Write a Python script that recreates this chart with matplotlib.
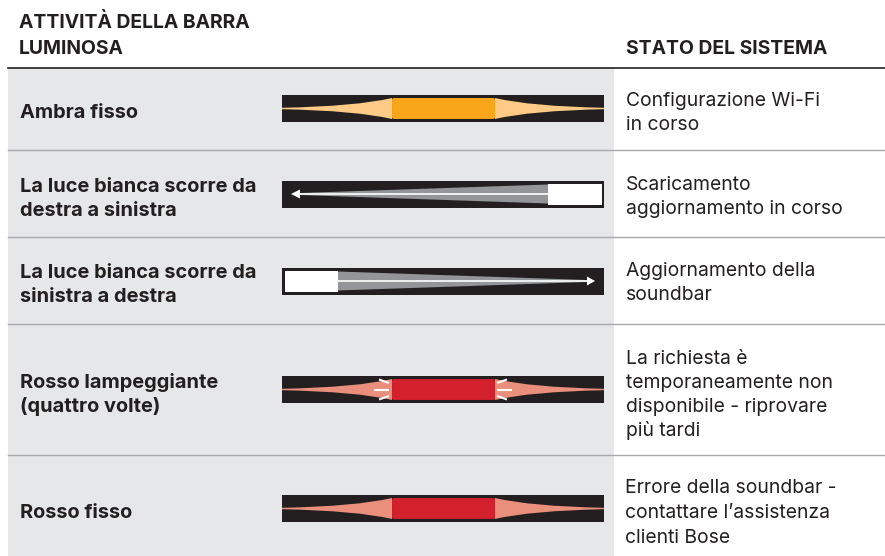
"""Bose soundbar light bar status table (Italian)."""
import matplotlib
matplotlib.use("Agg")
import matplotlib.pyplot as plt
from matplotlib.patches import FancyBboxPatch, PathPatch, Polygon, Rectangle
from matplotlib.path import Path

plt.rcParams["font.family"] = ["Inter", "DejaVu Sans"]

W, H = 885, 556
INK = "#231f20"
PANEL = "#e6e7e9"
RULE = "#a7a9ac"

header_left = ["ATTIVITÀ DELLA BARRA", "LUMINOSA"]
header_right = "STATO DEL SISTEMA"

activity_labels = [
    ["Ambra fisso"],
    ["La luce bianca scorre da", "destra a sinistra"],
    ["La luce bianca scorre da", "sinistra a destra"],
    ["Rosso lampeggiante", "(quattro volte)"],
    ["Rosso fisso"],
]
status_labels = [
    ["Configurazione Wi-Fi", "in corso"],
    ["Scaricamento", "aggiornamento in corso"],
    ["Aggiornamento della", "soundbar"],
    ["La richiesta è", "temporaneamente non", "disponibile - riprovare", "più tardi"],
    ["Errore della soundbar -", "contattare l’assistenza", "clienti Bose"],
]
status_x = [626, 626, 626, 626, 625]
label_y = [113.5, 198.5, 285.5, 395, 513.5]
status_y = [113, 196.5, 283.5, 395, 513]
status_step = [24, 24, 24, 24, 25]
divider_y = [150, 237, 324, 455]
bar_cy = [108.5, 194, 281, 389.5, 508.5]

BAR_L, BAR_R = 282, 604
BAR_H = 27


def text_block(ax, x, yc, lines, step, **kw):
    y0 = yc - step * (len(lines) - 1) / 2
    for i, line in enumerate(lines):
        ax.text(x, y0 + i * step, line, va="center", ha="left", **kw)


def taper(ax, x_end, x_block, cy, half, color, zorder=3):
    """Concave wedge from a thin end at x_end up to half height at x_block."""
    ctrl = x_block + (x_end - x_block) * 0.32
    verts = [(x_end, cy - 0.7), (ctrl, cy - 2.2), (x_block, cy - half),
             (x_block, cy + half), (ctrl, cy + 2.2), (x_end, cy + 0.7), (x_end, cy - 0.7)]
    codes = [Path.MOVETO, Path.CURVE3, Path.CURVE3, Path.LINETO,
             Path.CURVE3, Path.CURVE3, Path.CLOSEPOLY]
    ax.add_patch(PathPatch(Path(verts, codes), facecolor=color, lw=0, zorder=zorder))


def draw_bar(ax, cy):
    ax.add_patch(Rectangle((BAR_L, cy - BAR_H / 2), BAR_R - BAR_L, BAR_H, color=INK, lw=0, zorder=2))


def draw_glow(ax, cy, core, glow):
    """Centre block with a tapered glow running out to both bar ends."""
    taper(ax, BAR_L, 392, cy, 10.5, glow)
    taper(ax, BAR_R, 495, cy, 10.5, glow)
    ax.add_patch(FancyBboxPatch((393, cy - 9.5), 101, 19, boxstyle="round,pad=0,rounding_size=1",
                                facecolor=core, edgecolor=core, lw=1.4, zorder=4))


def draw_sweep(ax, cy, box_l, box_r, tip, neck):
    """White block with a grey tail and an arrow pointing along the bar."""
    edge = box_l if tip < box_l else box_r
    ax.add_patch(Polygon([(edge, cy - 9.5), (neck, cy - 1), (neck, cy + 1), (edge, cy + 9.5)],
                         color="#939598", lw=0, zorder=3))
    ax.add_patch(Rectangle((box_l, cy - 10.5), box_r - box_l, 21, color="white", lw=0, zorder=4))
    ax.plot([edge, neck], [cy, cy], color="white", lw=1.2, zorder=5, solid_capstyle="butt")
    ax.add_patch(Polygon([(tip, cy), (neck, cy - 4.5), (neck, cy + 4.5)], color="white", lw=0, zorder=5))


def draw_flash_ticks(ax, cy):
    for x0, x1 in [(374, 389), (497, 512)]:
        ax.plot([x0, x1], [cy, cy], color="white", lw=1.5, zorder=5, solid_capstyle="butt")
    for xa, xb in [(379, 389), (507, 497)]:
        for s in (-1, 1):
            ax.plot([xa, xb], [cy + s * 10, cy + s * 6.5], color="white", lw=1.5, zorder=5,
                    solid_capstyle="butt")


fig = plt.figure(figsize=(W / 100, H / 100), dpi=100)
ax = fig.add_axes([0, 0, 1, 1])
ax.set_xlim(0, W)
ax.set_ylim(H, 0)
ax.axis("off")

ax.add_patch(Rectangle((8, 68), 606, H - 68, color=PANEL, lw=0, zorder=0))
ax.plot([8, W], [68, 68], color=INK, lw=1.2, zorder=1)
for y in divider_y:
    ax.plot([8, W], [y, y], color=RULE, lw=1.0, zorder=1)

head = dict(fontsize=13.9, fontweight="bold", color=INK)
text_block(ax, 19, 36, header_left, 26, **head)
ax.text(626, 49.5, header_right, va="center", ha="left", **head)

for i, (act, stat) in enumerate(zip(activity_labels, status_labels)):
    text_block(ax, 20, label_y[i], act, 24, fontsize=14.4, fontweight="bold", color=INK)
    text_block(ax, status_x[i], status_y[i], stat, status_step[i], fontsize=13.9, color=INK)

for cy in bar_cy:
    draw_bar(ax, cy)

draw_glow(ax, bar_cy[0], "#faa61a", "#fdcb85")
draw_sweep(ax, bar_cy[1], 548, 602, 291, 300)
draw_sweep(ax, bar_cy[2], 285, 338, 595, 587)
draw_glow(ax, bar_cy[3], "#d2202c", "#e98f7c")
draw_flash_ticks(ax, bar_cy[3])
draw_glow(ax, bar_cy[4], "#d2202c", "#e98f7c")

fig.savefig("out.png", dpi=100)
